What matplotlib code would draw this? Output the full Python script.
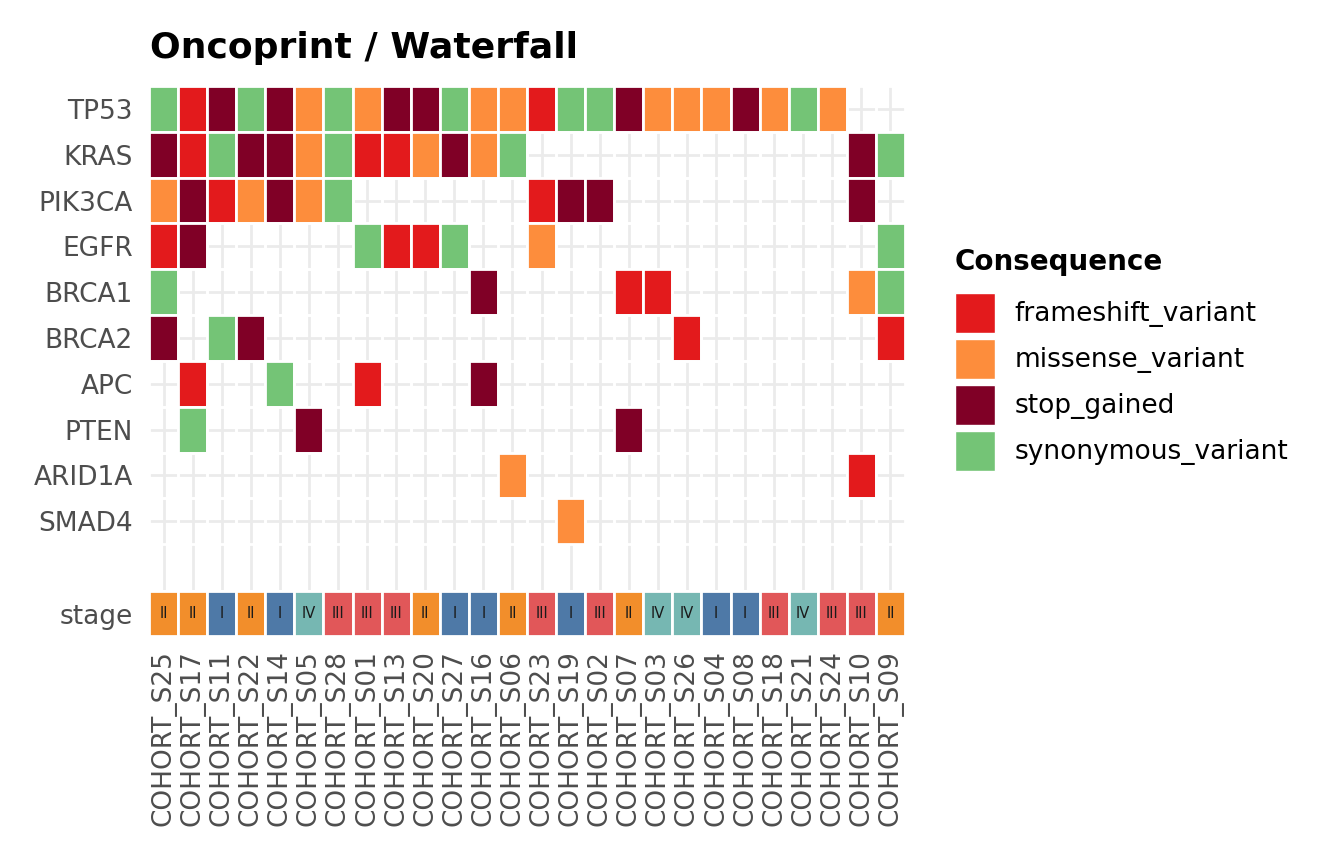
import matplotlib
matplotlib.use("Agg")
import matplotlib.pyplot as plt
from matplotlib.patches import Patch

# sample order (columns) and gene order (rows)
samples = ["COHORT_S25", "COHORT_S17", "COHORT_S11", "COHORT_S22", "COHORT_S14",
           "COHORT_S05", "COHORT_S28", "COHORT_S01", "COHORT_S13", "COHORT_S20",
           "COHORT_S27", "COHORT_S16", "COHORT_S06", "COHORT_S23", "COHORT_S19",
           "COHORT_S02", "COHORT_S07", "COHORT_S03", "COHORT_S26", "COHORT_S04",
           "COHORT_S08", "COHORT_S18", "COHORT_S21", "COHORT_S24", "COHORT_S10",
           "COHORT_S09"]
genes = ["TP53", "KRAS", "PIK3CA", "EGFR", "BRCA1", "BRCA2", "APC", "PTEN", "ARID1A", "SMAD4"]

# F = frameshift, M = missense, S = stop_gained, Y = synonymous, . = none
tp53   = "Y F S Y S M Y M S S Y M M F Y Y S M M M S M Y M . .".split()
kras   = "S F Y S S M Y F F M S M Y . . . . . . . . . . . S Y".split()
pik3ca = "M S F M S M Y . . . . . . F S S . . . . . . . . S .".split()
egfr   = "F S . . . . . Y F F Y . . M . . . . . . . . . . . Y".split()
brca1  = "Y . . . . . . . . . . S . . . . F F . . . . . . M Y".split()
brca2  = "S . Y S . . . . . . . . . . . . . . F . . . . . . F".split()
apc    = ". F . . Y . . F . . . S . . . . . . . . . . . . . .".split()
pten   = ". Y . . . S . . . . . . . . . . S . . . . . . . . .".split()
arid1a = ". . . . . . . . . . . . M . . . . . . . . . . . F .".split()
smad4  = ". . . . . . . . . . . . . . M . . . . . . . . . . .".split()
gene_rows = [tp53, kras, pik3ca, egfr, brca1, brca2, apc, pten, arid1a, smad4]

stage = ["II", "II", "I", "II", "I", "IV", "III", "III", "III", "II", "I", "I", "II",
         "III", "I", "III", "II", "IV", "IV", "I", "I", "III", "IV", "III", "III", "II"]

consequences = ["frameshift_variant", "missense_variant", "stop_gained", "synonymous_variant"]
cons_codes = ["F", "M", "S", "Y"]
cons_colors = ["#E31A1C", "#FD8D3C", "#800026", "#74C476"]
code_to_color = dict(zip(cons_codes, cons_colors))
stage_colors = {"I": "#4E79A7", "II": "#F28E2B", "III": "#E15759", "IV": "#76B7B2"}

W, H = 1344, 864
fig = plt.figure(figsize=(W / 100, H / 100), dpi=100)
fig.patch.set_facecolor("white")

tick_col = "#4D4D4D"
fs = 19

def frac_box(x0, y0, x1, y1):
    return [x0 / W, 1 - y1 / H, (x1 - x0) / W, (y1 - y0) / H]

# gene panel
ax = fig.add_axes(frac_box(149, 86, 905, 590))
n = len(samples)
xs = list(range(n))
for gi, row in enumerate(gene_rows):
    fcs = [code_to_color.get(c, "none") for c in row]
    ax.bar(xs, [1] * n, bottom=gi - 0.5, width=1, color=fcs,
           edgecolor="white", linewidth=2.0, zorder=2)
ax.set_xlim(-0.5, n - 0.5)
ax.set_ylim(len(genes) + 0.5, -0.5)
ax.set_xticks(xs)
ax.set_yticks(range(len(genes)))
ax.set_yticklabels(genes)
ax.grid(True, color="#EBEBEB", linewidth=2.0, zorder=0)
ax.set_axisbelow(True)
ax.tick_params(length=0, labelbottom=False, labelsize=fs, labelcolor=tick_col, pad=11.5)
for s in ax.spines.values():
    s.set_visible(False)

# stage annotation row
ax2 = fig.add_axes(frac_box(149, 591, 905, 636))
ax2.bar(xs, [1] * n, bottom=-0.5, width=1, color=[stage_colors[s] for s in stage],
        edgecolor="white", linewidth=2.0)
for i, s in enumerate(stage):
    ax2.text(i, 0, s, ha="center", va="center", fontsize=10.5, color="#1A1A1A")
ax2.set_xlim(-0.5, n - 0.5)
ax2.set_ylim(0.5, -0.5)
ax2.set_xticks(xs)
ax2.set_xticklabels(samples, rotation=90)
ax2.set_yticks([0])
ax2.set_yticklabels(["stage"])
ax2.tick_params(length=0, labelsize=fs, labelcolor=tick_col)
ax2.tick_params(axis="y", pad=11.5)
ax2.tick_params(axis="x", pad=10)
for s in ax2.spines.values():
    s.set_visible(False)

# title
fig.text(150 / W, 1 - 58 / H, "Oncoprint / Waterfall", fontsize=26, fontweight="bold",
         ha="left", va="baseline")

# legend (title drawn separately to match spacing)
fig.text(955 / W, 1 - 262 / H, "Consequence", fontsize=20, fontweight="bold",
         ha="left", va="center")
handles = [Patch(facecolor=c, edgecolor="white", linewidth=1) for c in cons_colors]
leg = fig.legend(handles, consequences, loc="upper left",
                 bbox_to_anchor=(955 / W, 1 - 293 / H), frameon=False, fontsize=fs,
                 handlelength=1.5, handleheight=1.95, handletextpad=0.76,
                 labelspacing=0.23, borderpad=0, borderaxespad=0)

fig.savefig("out.png", dpi=100)
